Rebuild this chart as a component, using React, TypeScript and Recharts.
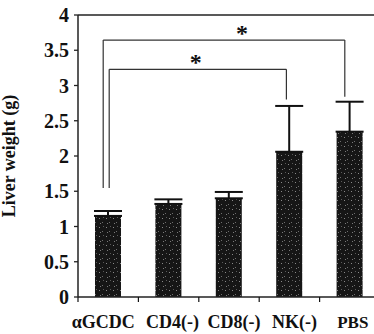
import { BarChart, Bar, XAxis, YAxis, ErrorBar, ReferenceLine } from 'recharts'

const groups = ['αGCDC', 'CD4(-)', 'CD8(-)', 'NK(-)', 'PBS']
const liverWeight = [1.15, 1.32, 1.4, 2.06, 2.345]
const errUp = [0.07, 0.065, 0.09, 0.65, 0.425]
const yTicks = [0, 0.5, 1, 1.5, 2, 2.5, 3, 3.5, 4]

// significance brackets: from group, to group, bar height, leg ends
const brackets = [
  { from: 'αGCDC', to: 'PBS', level: 3.645, leftEnd: 1.545, rightEnd: 2.84, mark: '*' },
  { from: 'αGCDC', to: 'NK(-)', level: 3.23, leftEnd: 1.545, rightEnd: 2.8, mark: '*' },
]
// pixel nudges for each bracket's legs / star (style, not data)
const BRACKET_STYLE = [
  { dxL: -5, dxR: -5, starDx: 13 },
  { dxL: 1, dxR: -3, starDx: -3 },
]
// label nudges under each bar (the original labels are not quite centred)
const LABEL_DX = [-5, 4, 5, 5, 3]

const data = groups.map((g, i) => ({ group: g, value: liverWeight[i], err: [0, errUp[i]] }))

const W = 392
const H = 334
const MARGIN = { top: 15, right: 12, bottom: 7, left: 18 }
const Y_W = 60
const X_H = 30
const STEP = (W - MARGIN.left - MARGIN.right - Y_W) / groups.length

const FONT = '"Liberation Serif", "Times New Roman", serif'

function shifted(dx1: number, dx2: number, stroke = '#333') {
  // eslint-disable-next-line @typescript-eslint/no-explicit-any
  return (p: any) => (
    <line x1={p.x1 + dx1} y1={p.y1} x2={p.x2 + dx2} y2={p.y2} stroke={stroke} strokeWidth={1.2} />
  )
}

// eslint-disable-next-line @typescript-eslint/no-explicit-any
function GroupTick(props: any) {
  const { x, y, payload, index } = props
  const small = payload.value === 'PBS'
  return (
    <g>
      <line x1={x - STEP / 2} y1={y} x2={x - STEP / 2} y2={y + 5} stroke="#111" strokeWidth={1.2} />
      <text x={x + (LABEL_DX[index] ?? 0)} y={y + 31} textAnchor="middle" fontFamily={FONT} fontWeight="bold"
        fontSize={small ? 17 : 18} fill="#111">
        {payload.value}
      </text>
    </g>
  )
}

// eslint-disable-next-line @typescript-eslint/no-explicit-any
function ValueTick(props: any) {
  const { x, y, payload } = props
  return (
    <text x={x} y={y + 7} textAnchor="end" fontFamily={FONT} fontWeight="bold" fontSize={20} fill="#111">
      {payload.value}
    </text>
  )
}

export default function App() {
  return (
    <div style={{ position: 'fixed', left: 0, top: 0, width: 374, height: 334, overflow: 'hidden', background: '#fff' }}>
      <BarChart width={W} height={H} data={data} margin={MARGIN} barSize={26}>
        <defs>
          <pattern id="speckle" width="7" height="9" patternUnits="userSpaceOnUse">
            <rect width="7" height="9" fill="#161616" />
            <rect x="1" y="2" width="1" height="1" fill="#8a8a8a" />
            <rect x="4" y="6" width="1" height="1" fill="#6e6e6e" />
            <rect x="5" y="1" width="1" height="1" fill="#5a5a5a" />
            <rect x="2" y="7" width="1" height="1" fill="#7a7a7a" />
          </pattern>
        </defs>
        <XAxis dataKey="group" height={X_H} tickLine={false} tickSize={0} tickMargin={0}
          axisLine={{ stroke: '#222', strokeWidth: 1.3 }} tick={<GroupTick />} interval={0} />
        <YAxis domain={[0, 4]} ticks={yTicks} width={Y_W} tickSize={4} tickMargin={5}
          axisLine={{ stroke: '#222', strokeWidth: 1.5 }} tickLine={{ stroke: '#222', strokeWidth: 1.3 }}
          tick={<ValueTick />}
          label={{
            value: 'Liver weight (g)', angle: -90, position: 'insideLeft', offset: -9,
            style: { textAnchor: 'middle', fontFamily: FONT, fontWeight: 'bold', fontSize: 18, fill: '#111' },
          }} />
        <ReferenceLine y={4} stroke="#222" strokeWidth={1.3} />
        {brackets.map((b, i) => {
          const s = BRACKET_STYLE[i]
          return [
            <ReferenceLine key={`h${i}`} segment={[{ x: b.from, y: b.level }, { x: b.to, y: b.level }]}
              shape={shifted(s.dxL, s.dxR)}
              label={{ value: b.mark, position: 'center', dx: s.starDx, dy: -8, fontSize: 24, fontWeight: 'bold', fill: '#111', fontFamily: FONT }} />,
            <ReferenceLine key={`l${i}`} segment={[{ x: b.from, y: b.leftEnd }, { x: b.from, y: b.level }]}
              shape={shifted(s.dxL, s.dxL)} />,
            <ReferenceLine key={`r${i}`} segment={[{ x: b.to, y: b.rightEnd }, { x: b.to, y: b.level }]}
              shape={shifted(s.dxR, s.dxR)} />,
          ]
        })}
        <Bar dataKey="value" fill="url(#speckle)" isAnimationActive={false}>
          <ErrorBar dataKey="err" direction="y" width={14} stroke="#111" strokeWidth={2} />
        </Bar>
      </BarChart>
    </div>
  )
}
